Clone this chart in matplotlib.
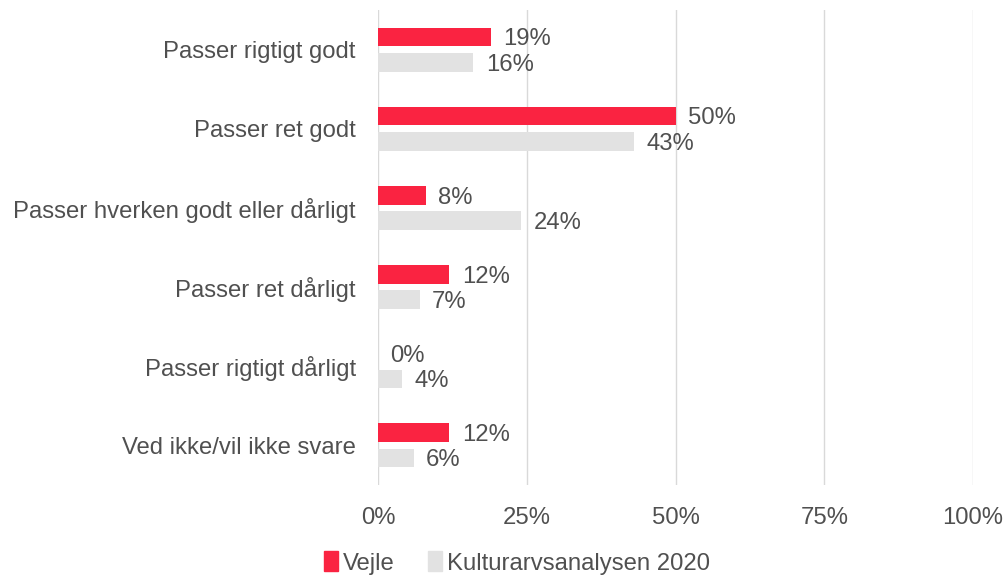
import matplotlib
matplotlib.use("Agg")
import matplotlib.pyplot as plt
import numpy as np
from matplotlib.patches import Patch

plt.rcParams['font.family'] = ['Liberation Sans', 'DejaVu Sans']

categories = ["Passer rigtigt godt", "Passer ret godt", "Passer hverken godt eller dårligt",
              "Passer ret dårligt", "Passer rigtigt dårligt", "Ved ikke/vil ikke svare"]
vejle = [19, 50, 8, 12, 0, 12]
kultur = [16, 43, 24, 7, 4, 6]
series_names = ["Vejle", "Kulturarvsanalysen 2020"]
xticks = [0, 25, 50, 75, 100]

red = "#FA2341"
gray = "#E2E2E2"
txt = "#505050"
fs = 17.2

fig = plt.figure(figsize=(10.05, 5.77), dpi=100)
ax = fig.add_axes([378/1005, 1-485/577, (973-378)/1005, (485-10)/577])

y = np.arange(len(categories))
bh = 0.235
off = 0.16
ax.barh(y - off, vejle, height=bh, color=red, zorder=3)
ax.barh(y + off, kultur, height=bh, color=gray, zorder=3)

for yi, v in zip(y, vejle):
    ax.text(v + 2.1, yi - off + 0.03, f"{v}%", va="center", ha="left", fontsize=fs, color=txt)
for yi, v in zip(y, kultur):
    ax.text(v + 2.1, yi + off + 0.03, f"{v}%", va="center", ha="left", fontsize=fs, color=txt)

ax.set_ylim(len(categories) - 0.5, -0.5)
ax.set_xlim(0, 100)
ax.set_yticks(y)
ax.set_yticklabels(categories, fontsize=fs, color=txt)
ax.set_xticks(xticks)
ax.set_xticklabels([f"{t}%" for t in xticks], fontsize=fs, color=txt)
ax.tick_params(axis='y', length=0, pad=16)
ax.tick_params(axis='x', length=0, pad=16)
for s in ax.spines.values():
    s.set_visible(False)
ax.grid(axis='x', color="#D9D9D9", linewidth=1, zorder=0)
ax.set_axisbelow(True)

handles = [Patch(color=red), Patch(color=gray)]
fig.legend(handles, series_names, loc="center", bbox_to_anchor=(517/1005, 1-563/577),
           ncol=2, frameon=False, fontsize=fs, handlelength=0.6, handleheight=0.9,
           handletextpad=0.2, columnspacing=1.4, labelcolor=txt)

fig.savefig("out.png", dpi=100)
